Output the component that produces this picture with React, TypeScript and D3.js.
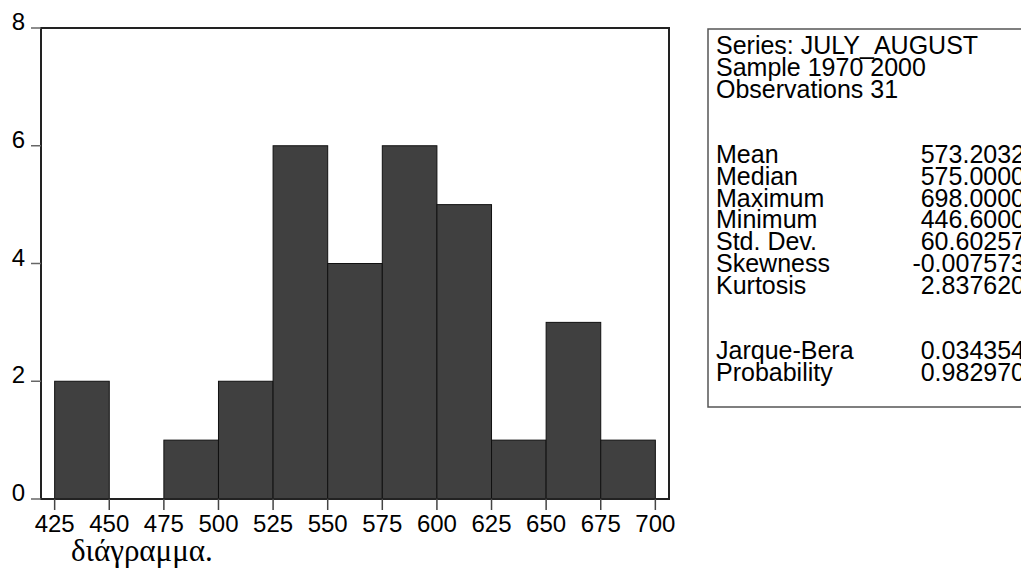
import React from "react";
import * as d3 from "d3";

const binStarts = [425, 450, 475, 500, 525, 550, 575, 600, 625, 650, 675];
const binWidth = 25;
const counts = [2, 0, 1, 2, 6, 4, 6, 5, 1, 3, 1];
const xTicks = [425, 450, 475, 500, 525, 550, 575, 600, 625, 650, 675, 700];
const yTicks = [0, 2, 4, 6, 8];
const headerLines = ["Series: JULY_AUGUST", "Sample 1970 2000", "Observations 31"];
const statLabels = ["Mean", "Median", "Maximum", "Minimum", "Std. Dev.", "Skewness", "Kurtosis"];
const statValues = ["573.2032", "575.0000", "698.0000", "446.6000", "60.60257", "-0.007573", "2.837620"];
const testLabels = ["Jarque-Bera", "Probability"];
const testValues = ["0.034354", "0.982970"];
const caption = "διάγραμμα.";

const W = 1021;
const H = 569;
const plot = { left: 41, right: 669, top: 28, bottom: 499 };
const sans = "'Liberation Sans', Arial, Helvetica, sans-serif";
const serif = "'Liberation Serif', 'Times New Roman', serif";

export default function App() {
  const x = d3.scaleLinear().domain([418.75, 706.25]).range([plot.left, plot.right]);
  const y = d3.scaleLinear().domain([0, 8]).range([plot.bottom, plot.top]);

  const rowY0 = 54;
  const rowStep = 21.8;
  const rows: { label: string; value?: string; idx: number }[] = [];
  headerLines.forEach((l, i) => rows.push({ label: l, idx: i }));
  statLabels.forEach((l, i) => rows.push({ label: l, value: statValues[i], idx: 5 + i }));
  testLabels.forEach((l, i) => rows.push({ label: l, value: testValues[i], idx: 14 + i }));

  return (
    <div style={{ position: "absolute", left: 0, top: 0 }}>
      <svg width={W} height={H} style={{ display: "block", background: "#fff" }}>
        {binStarts.map((b, i) => (
          <rect
            key={b}
            x={x(b)}
            y={y(counts[i])}
            width={x(b + binWidth) - x(b)}
            height={y(0) - y(counts[i])}
            fill="#404040"
            stroke="#111"
            strokeWidth={1}
          />
        ))}
        <rect
          x={plot.left}
          y={plot.top}
          width={plot.right - plot.left}
          height={plot.bottom - plot.top}
          fill="none"
          stroke="#222"
          strokeWidth={2}
        />
        {yTicks.map((t) => (
          <g key={t}>
            <line x1={31} x2={plot.left} y1={y(t)} y2={y(t)} stroke="#666" strokeWidth={1.5} />
            <text x={25} y={y(t) + 2} textAnchor="end" fontFamily={sans} fontSize={24} fill="#000">
              {t}
            </text>
          </g>
        ))}
        {xTicks.map((t) => (
          <g key={t}>
            <line x1={x(t)} x2={x(t)} y1={plot.bottom} y2={plot.bottom + 11} stroke="#444" strokeWidth={1.5} />
            <text x={x(t)} y={532} textAnchor="middle" fontFamily={sans} fontSize={24} fill="#000">
              {t}
            </text>
          </g>
        ))}
        <text x={71} y={561} fontFamily={serif} fontSize={31} fill="#000">
          {caption}
        </text>
        <rect x={708} y={29} width={400} height={378} fill="#fff" stroke="#555" strokeWidth={1.5} />
        {rows.map((r) => (
          <g key={r.label}>
            <text x={716} y={rowY0 + r.idx * rowStep} fontFamily={sans} fontSize={25} fill="#000">
              {r.label}
            </text>
            {r.value && (
              <text x={1025} y={rowY0 + r.idx * rowStep} textAnchor="end" fontFamily={sans} fontSize={25} fill="#000">
                {r.value}
              </text>
            )}
          </g>
        ))}
      </svg>
    </div>
  );
}
